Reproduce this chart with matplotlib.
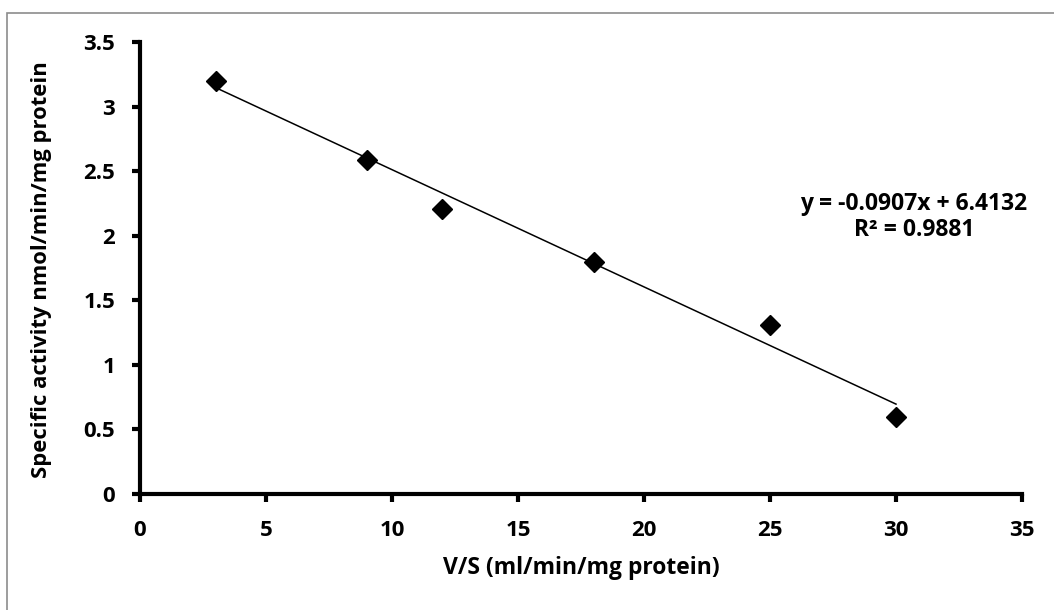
import numpy as np
import matplotlib.pyplot as plt
from matplotlib.patches import Rectangle

# data
vs = [3, 9, 12, 18, 25, 30]
activity = [3.20, 2.59, 2.21, 1.80, 1.31, 0.60]
x_ticks = [0, 5, 10, 15, 20, 25, 30, 35]
y_ticks = [0, 0.5, 1, 1.5, 2, 2.5, 3, 3.5]
y_tick_labels = ['0', '0.5', '1', '1.5', '2', '2.5', '3', '3.5']
eq_text = 'y = -0.0907x + 6.4132\nR² = 0.9881'

plt.rcParams['font.family'] = ['Open Sans', 'DejaVu Sans']
plt.rcParams['font.weight'] = 'bold'
tick_fs = 16
label_fs = 16.5

W, H = 1054, 610
fig = plt.figure(figsize=(W / 100, H / 100), dpi=100)
fig.patches.append(Rectangle((7 / W, -0.1), 1.2, (H - 13) / H + 0.1,
                             transform=fig.transFigure, fill=False,
                             edgecolor='#8c8c8c', linewidth=1.2))

ax = fig.add_axes([140 / W, 1 - 494 / H, (1022 - 140) / W, (494 - 42) / H])

# linear trendline over the data range
k, b = np.polyfit(vs, activity, 1)
xs = np.array([min(vs), max(vs)])
ax.plot(xs, k * xs + b, color='black', linewidth=1.1, zorder=2)
ax.plot(vs, activity, linestyle='none', marker='D', markersize=10,
        color='black', zorder=3, clip_on=False)

ax.set_xlim(0, 35)
ax.set_ylim(0, 3.5)
ax.set_xticks(x_ticks)
ax.set_yticks(y_ticks)
ax.set_yticklabels(y_tick_labels)
for s in ['top', 'right']:
    ax.spines[s].set_visible(False)
for s in ['left', 'bottom']:
    ax.spines[s].set_linewidth(3.0)
ax.tick_params(direction='out', length=6, width=3.0, labelsize=tick_fs)
ax.tick_params(axis='x', pad=13)
ax.tick_params(axis='y', pad=12)

ax.set_xlabel('V/S (ml/min/mg protein)', fontsize=label_fs, fontweight='bold')
ax.set_ylabel('Specific activity nmol/min/mg protein', fontsize=15.8,
              fontweight='bold')
ax.xaxis.set_label_coords(581 / W, 1 - 556 / H, transform=fig.transFigure)
ax.yaxis.set_label_coords(52 / W, 1 - 270 / H, transform=fig.transFigure)

ax.text(914 / W, 1 - 217 / H, eq_text, transform=fig.transFigure,
        ha='center', va='center', fontsize=label_fs, fontweight='bold',
        linespacing=1.15)

fig.savefig('out.png', dpi=100)
